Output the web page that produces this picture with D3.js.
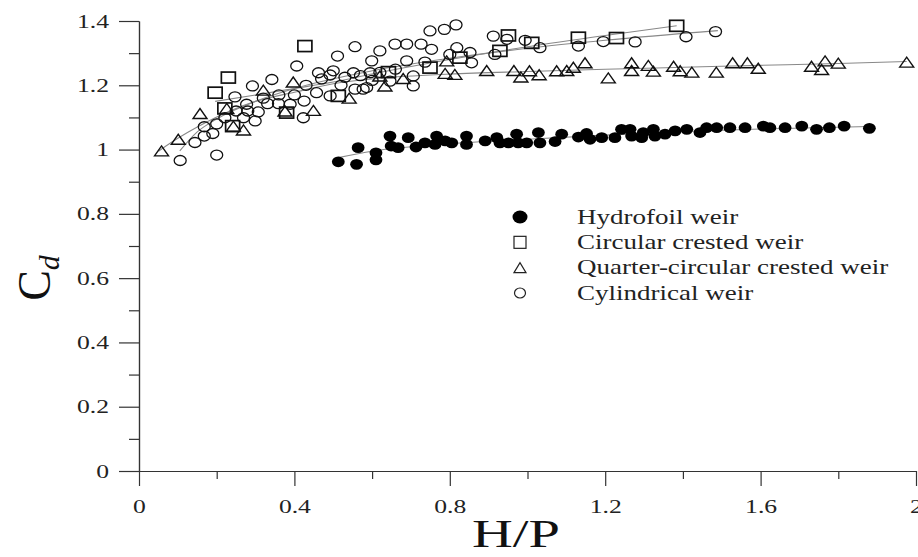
<!DOCTYPE html>
<html>
<head>
<meta charset="utf-8">
<script src="https://cdn.jsdelivr.net/npm/d3@7"></script>
<style>
  body { margin: 0; background: #fff; }
</style>
</head>
<body>
<div id="chart"></div>
<script>
// Data
const hydroX = [0.513,0.560,0.564,0.610,0.610,0.646,0.649,0.667,0.693,0.713,0.736,0.766,0.762,0.788,0.805,0.843,0.843,0.891,0.921,0.929,0.951,0.972,0.976,0.998,1.028,1.032,1.071,1.088,1.131,1.152,1.161,1.191,1.225,1.242,1.264,1.268,1.294,1.298,1.324,1.328,1.354,1.380,1.410,1.444,1.461,1.487,1.521,1.560,1.607,1.624,1.663,1.706,1.744,1.777,1.815,1.880];
const hydroY = [0.962,0.954,1.006,0.968,0.990,1.042,1.011,1.006,1.037,1.008,1.021,1.042,1.016,1.027,1.021,1.042,1.016,1.027,1.037,1.021,1.021,1.048,1.021,1.021,1.053,1.021,1.025,1.048,1.039,1.050,1.032,1.037,1.037,1.063,1.063,1.042,1.037,1.053,1.063,1.042,1.048,1.058,1.063,1.053,1.068,1.068,1.068,1.068,1.073,1.068,1.068,1.073,1.063,1.068,1.073,1.066];

const circX = [0.196,0.221,0.230,0.241,0.380,0.427,0.513,0.642,0.749,0.826,0.929,0.951,1.011,1.131,1.229,1.384];
const circY = [1.177,1.128,1.224,1.073,1.115,1.322,1.167,1.241,1.255,1.286,1.307,1.355,1.332,1.348,1.347,1.385];

const quartX = [0.058,0.101,0.157,0.226,0.243,0.269,0.320,0.376,0.397,0.449,0.541,0.620,0.633,0.680,0.788,0.792,0.813,0.895,0.965,0.983,1.005,1.030,1.075,1.101,1.118,1.148,1.208,1.268,1.268,1.311,1.324,1.376,1.393,1.423,1.486,1.528,1.566,1.594,1.731,1.757,1.766,1.800,1.976];
const quartY = [0.996,1.032,1.112,1.128,1.073,1.061,1.185,1.120,1.210,1.122,1.160,1.229,1.198,1.221,1.237,1.276,1.234,1.246,1.246,1.226,1.245,1.233,1.245,1.246,1.256,1.270,1.223,1.270,1.246,1.262,1.244,1.259,1.245,1.241,1.241,1.270,1.270,1.253,1.259,1.249,1.276,1.269,1.272];

const cylX = [0.106,0.200,0.144,0.168,0.168,0.200,0.221,0.247,0.277,0.292,0.299,0.307,0.269,0.342,0.331,0.359,0.389,0.406,0.423,0.425,0.462,0.457,0.492,0.511,0.552,0.556,0.556,0.586,0.599,0.620,0.595,0.659,0.689,0.689,0.726,0.749,0.786,0.816,0.753,0.736,0.706,0.706,0.646,0.492,0.577,0.818,0.852,0.856,0.912,0.916,0.947,0.994,1.032,1.131,1.195,1.277,1.408,1.484,0.800,0.470,0.500,0.530,0.570,0.620,0.520,0.600,0.660,0.430,0.400,0.360,0.320,0.250,0.190,0.280];
const cylY = [0.966,0.983,1.022,1.042,1.071,1.080,1.099,1.164,1.141,1.198,1.089,1.117,1.099,1.218,1.143,1.143,1.141,1.260,1.099,1.151,1.239,1.177,1.232,1.291,1.239,1.320,1.188,1.193,1.276,1.307,1.239,1.328,1.328,1.276,1.328,1.369,1.374,1.388,1.312,1.272,1.229,1.198,1.213,1.167,1.188,1.317,1.302,1.270,1.353,1.296,1.343,1.340,1.317,1.322,1.336,1.335,1.351,1.367,1.296,1.220,1.245,1.225,1.230,1.240,1.200,1.215,1.250,1.200,1.170,1.170,1.160,1.120,1.050,1.120];

// Fitted curves drawn in grey
const hydroFitX = [0.513,0.6,0.8,1.0,1.2,1.4,1.6,1.88];
const hydroFitY = [0.975,0.995,1.018,1.032,1.045,1.056,1.064,1.072];
const circFitX = [0.196,0.3,0.4,0.5,0.6,0.8,1.0,1.2,1.384];
const circFitY = [1.150,1.170,1.190,1.210,1.235,1.280,1.320,1.355,1.385];
const quartFitX = [0.05,0.1,0.15,0.234,0.3,0.406,0.5,0.62,0.8,1.0,1.2,1.4,1.6,1.8,1.976];
const quartFitY = [0.995,1.035,1.070,1.120,1.150,1.180,1.205,1.222,1.235,1.243,1.250,1.256,1.262,1.268,1.274];
const cylFitX = [0.105,0.15,0.2,0.3,0.4,0.6,0.8,1.0,1.2,1.49];
const cylFitY = [0.996,1.055,1.095,1.150,1.190,1.245,1.284,1.315,1.340,1.370];

const xTicks = [0, 0.4, 0.8, 1.2, 1.6, 2];
const xMinor = [0.2, 0.6, 1.0, 1.4, 1.8];
const yTicks = [0, 0.2, 0.4, 0.6, 0.8, 1, 1.2, 1.4];
const yMinor = [0.1, 0.3, 0.5, 0.7, 0.9, 1.1, 1.3];
const legendLabels = ["Hydrofoil weir", "Circular crested weir", "Quarter-circular crested weir", "Cylindrical weir"];

const chartWidth = 918;
const chartHeight = 557;
const stretch = 1.35;   // the figure is wider than tall; text is widened the same way
const font = "'Liberation Serif', 'Times New Roman', serif";

const xScale = d3.scaleLinear().domain([0, 2]).range([139, 916]);
const yScale = d3.scaleLinear().domain([0, 1.4]).range([471, 21]);

const svg = d3.select("#chart")
    .append("svg")
    .attr("width", chartWidth)
    .attr("height", chartHeight)
    .style("font-family", font);

function widen(sel) {
    sel.selectAll("text").each(function () {
        const t = d3.select(this);
        const tx = +t.attr("x") || 0, ty = +t.attr("y") || 0;
        t.attr("x", 0).attr("y", 0)
            .attr("transform", `translate(${tx},${ty}) scale(${stretch},1)`);
    });
}

// axes
const yAxisMinor = svg.append("g")
    .attr("transform", "translate(139,0)")
    .call(d3.axisLeft(yScale).tickValues(yMinor).tickSize(10).tickSizeOuter(0).tickFormat(""));
const yAxis = svg.append("g")
    .attr("transform", "translate(139,0)")
    .call(d3.axisLeft(yScale).tickValues(yTicks).tickSize(20).tickPadding(10).tickSizeOuter(0)
        .tickFormat(d => d3.format("")(+d.toFixed(1))));
const xAxisMinor = svg.append("g")
    .attr("transform", "translate(0,471)")
    .call(d3.axisBottom(xScale).tickValues(xMinor).tickSize(8).tickSizeOuter(0).tickFormat(""));
const xAxis = svg.append("g")
    .attr("transform", "translate(0,471)")
    .call(d3.axisBottom(xScale).tickValues(xTicks).tickSize(15).tickPadding(14).tickSizeOuter(0)
        .tickFormat(d => d3.format("")(+d.toFixed(1))));

[yAxisMinor, yAxis, xAxisMinor, xAxis].forEach(g => {
    g.attr("font-family", font).attr("font-size", 19);
    g.selectAll("path, line").attr("stroke", "#333").attr("stroke-width", 1.2);
    g.selectAll("text").attr("fill", "#222");
});
widen(yAxis);
widen(xAxis);

// fitted lines
const line = d3.line().x(d => xScale(d[0])).y(d => yScale(d[1])).curve(d3.curveMonotoneX);
[[hydroFitX, hydroFitY], [circFitX, circFitY], [quartFitX, quartFitY], [cylFitX, cylFitY]].forEach(([fx, fy]) => {
    svg.append("path")
        .datum(d3.zip(fx, fy))
        .attr("fill", "none")
        .attr("stroke", "#888")
        .attr("stroke-width", 1.1)
        .attr("d", line);
});

// markers
const tri = (cx, cy, w, h) => `M${cx - w / 2},${cy + h / 2}L${cx},${cy - h / 2}L${cx + w / 2},${cy + h / 2}Z`;

svg.append("g").selectAll("ellipse")
    .data(d3.zip(cylX, cylY))
    .join("ellipse")
    .attr("cx", d => xScale(d[0])).attr("cy", d => yScale(d[1]))
    .attr("rx", 6).attr("ry", 5)
    .attr("fill", "none").attr("stroke", "#111").attr("stroke-width", 1.3);

svg.append("g").selectAll("path")
    .data(d3.zip(quartX, quartY))
    .join("path")
    .attr("d", d => tri(xScale(d[0]), yScale(d[1]), 14, 10))
    .attr("fill", "none").attr("stroke", "#111").attr("stroke-width", 1.4);

svg.append("g").selectAll("rect")
    .data(d3.zip(circX, circY))
    .join("rect")
    .attr("x", d => xScale(d[0]) - 7).attr("y", d => yScale(d[1]) - 5.5)
    .attr("width", 14).attr("height", 11)
    .attr("fill", "none").attr("stroke", "#111").attr("stroke-width", 1.7);

svg.append("g").selectAll("ellipse")
    .data(d3.zip(hydroX, hydroY))
    .join("ellipse")
    .attr("cx", d => xScale(d[0])).attr("cy", d => yScale(d[1]))
    .attr("rx", 6.4).attr("ry", 5.4)
    .attr("fill", "#000");

// legend
const legendY = d3.scalePoint().domain(legendLabels).range([217, 293]);
const lg = svg.append("g");
lg.selectAll("text")
    .data(legendLabels)
    .join("text")
    .attr("transform", d => `translate(577,${legendY(d)}) scale(${stretch},1)`)
    .attr("dy", "0.33em")
    .attr("font-size", 20)
    .attr("fill", "#222")
    .text(d => d);
const lx = 520;
lg.append("ellipse").attr("cx", lx).attr("cy", legendY(legendLabels[0]))
    .attr("rx", 7.5).attr("ry", 6.5).attr("fill", "#000");
lg.append("rect").attr("x", lx - 6).attr("y", legendY(legendLabels[1]) - 6)
    .attr("width", 12).attr("height", 12).attr("fill", "none").attr("stroke", "#222").attr("stroke-width", 1.2);
lg.append("path").attr("d", tri(lx, legendY(legendLabels[2]), 12, 10))
    .attr("fill", "none").attr("stroke", "#222").attr("stroke-width", 1.2);
lg.append("ellipse").attr("cx", lx).attr("cy", legendY(legendLabels[3]))
    .attr("rx", 5.5).attr("ry", 5).attr("fill", "none").attr("stroke", "#222").attr("stroke-width", 1.2);

// axis titles
svg.append("text")
    .attr("transform", `translate(516,547) scale(1.45,1)`)
    .attr("text-anchor", "middle")
    .attr("font-size", 39)
    .attr("fill", "#111")
    .text("H/P");

const cd = svg.append("text")
    .attr("transform", "translate(50,278) rotate(-90)")
    .attr("text-anchor", "middle")
    .attr("font-size", 46)
    .attr("fill", "#111");
cd.append("tspan").text("C");
cd.append("tspan").attr("font-style", "italic").attr("font-size", 30).attr("dy", 9).text("d");
</script>
</body>
</html>
